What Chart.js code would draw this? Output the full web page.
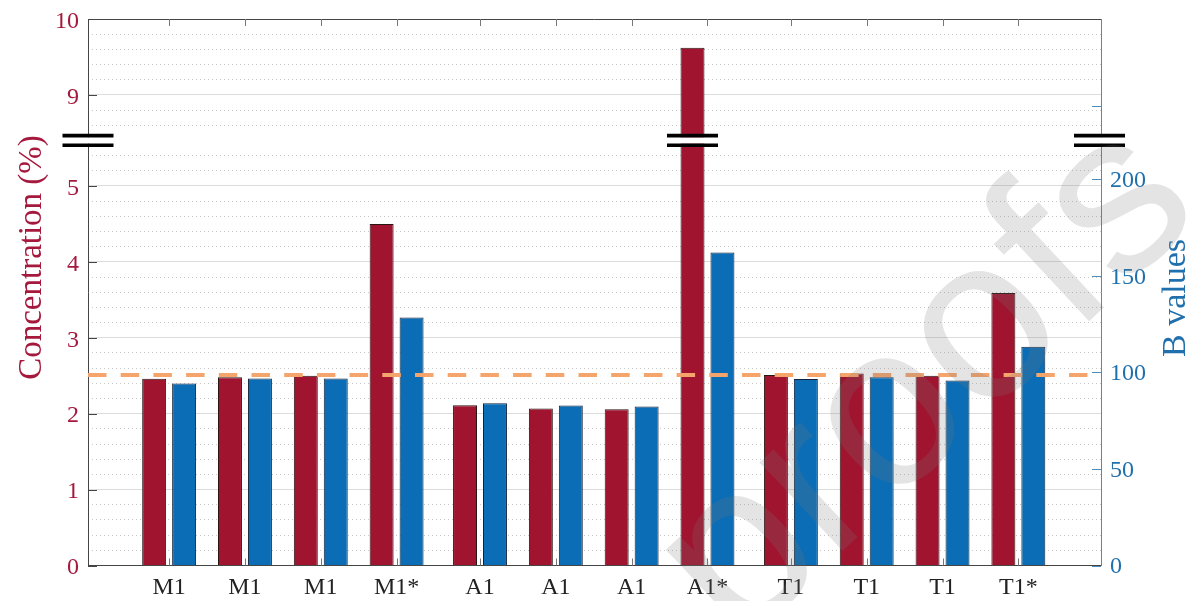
<!DOCTYPE html>
<html>
<head>
  <title>Concentration and B values</title>
  <script src="https://cdn.jsdelivr.net/npm/chart.js"></script>
  <style>
    body { margin: 0; background: #fff; }
    #wrap { width: 1190px; height: 601px; position: relative; }
  </style>
</head>
<body>
  <div id="wrap"><canvas id="barChart"></canvas></div>

  <script>
    // data
    const labels = ['M1', 'M1', 'M1', 'M1*', 'A1', 'A1', 'A1', 'A1*', 'T1', 'T1', 'T1', 'T1*'];
    const groupX = [1, 2, 3, 4, 5.1, 6.1, 7.1, 8.1, 9.2, 10.2, 11.2, 12.2];
    const concentration = [2.46, 2.48, 2.50, 4.50, 2.11, 2.07, 2.06, 9.62, 2.51, 2.53, 2.50, 3.59];
    const bValues = [94.2, 96.8, 96.8, 128.4, 84.0, 82.8, 82.3, 162.0, 96.6, 97.5, 95.8, 113.2];
    const refLevel = 2.51;
    const concTicks = [0, 1, 2, 3, 4, 5, 9, 10];
    const bTicks = [0, 50, 100, 150, 200, 350];
    const concMinor = [0.2, 0.4, 0.6, 0.8, 1.2, 1.4, 1.6, 1.8, 2.2, 2.4, 2.6, 2.8, 3.2, 3.4, 3.6, 3.8,
                       4.2, 4.4, 4.6, 4.8, 5.2, 5.4, 8.6, 8.8, 9.2, 9.4, 9.6, 9.8];

    // axis breaks: [last value below the break, first value above it]
    const CONC_BREAK = [5.6, 8.4];
    const CONC_TOP = 10;
    const B_BREAK = [220, 332];
    const B_TOP = 394.9;
    const X_MIN = -0.07, X_MAX = 13.29;

    const RED = '#a0142f';
    const BLUE = '#0a6db6';
    const RED_TEXT = '#a5193d';
    const BLUE_TEXT = '#1f70ac';
    const AXIS_GREY = '#454545';

    // linear scale with a gap cut out of it
    class BrokenLinearScale extends Chart.LinearScale {
      squash(v) {
        const [lo, hi] = this.options.gap;
        if (v <= lo) return v;
        if (v >= hi) return v - (hi - lo);
        return lo;
      }
      getPixelForValue(v) {
        return super.getPixelForValue(this.squash(v));
      }
    }
    BrokenLinearScale.id = 'brokenLinear';
    BrokenLinearScale.defaults = Chart.LinearScale.defaults;
    Chart.register(BrokenLinearScale);

    Chart.defaults.font.family = "'Liberation Serif', 'Times New Roman', serif";

    // fixed axis sizes so the plot box lands where the figure has it
    function fixWidth(w) {
      return s => {
        s.width = w;
        s.paddingTop = 0;
        s.paddingBottom = 0;
      };
    }

    function breakMark(ctx, cx, cy, half) {
      ctx.fillStyle = '#fff';
      ctx.fillRect(cx - half, cy - 3.2, half * 2, 6.4);
      ctx.strokeStyle = '#000';
      ctx.lineWidth = 3.6;
      [cy - 4.85, cy + 4.85].forEach(yy => {
        ctx.beginPath();
        ctx.moveTo(cx - half, yy);
        ctx.lineTo(cx + half, yy);
        ctx.stroke();
      });
    }

    const framePlugin = {
      id: 'frame',
      afterDraw(chart) {
        const { ctx, chartArea: a, scales } = chart;
        const x = scales.x, y = scales.y, yb = scales.y1;
        ctx.save();

        // top frame line
        ctx.strokeStyle = AXIS_GREY;
        ctx.lineWidth = 1;
        ctx.beginPath();
        ctx.moveTo(a.left, Math.round(a.top) + 0.5);
        ctx.lineTo(a.right, Math.round(a.top) + 0.5);
        ctx.stroke();

        // inward tick marks
        ctx.strokeStyle = AXIS_GREY;
        concTicks.forEach(v => {
          const py = Math.round(y.getPixelForValue(v)) + 0.5;
          ctx.beginPath(); ctx.moveTo(a.left, py); ctx.lineTo(a.left + 9, py); ctx.stroke();
        });
        ctx.strokeStyle = '#777';
        groupX.forEach(v => {
          const px = Math.round(x.getPixelForValue(v)) + 0.5;
          ctx.beginPath(); ctx.moveTo(px, a.bottom); ctx.lineTo(px, a.bottom - 7); ctx.stroke();
          ctx.beginPath(); ctx.moveTo(px, a.top); ctx.lineTo(px, a.top + 7); ctx.stroke();
        });
        ctx.strokeStyle = '#4a8db8';
        bTicks.forEach(v => {
          const py = Math.round(yb.getPixelForValue(v)) + 0.5;
          ctx.beginPath(); ctx.moveTo(a.right, py); ctx.lineTo(a.right - 9, py); ctx.stroke();
        });

        // break marks on both axes and on bars that cross the break
        const by = y.getPixelForValue(CONC_BREAK[0]);
        breakMark(ctx, a.left, by, 25.5);
        breakMark(ctx, a.right - 1.5, by, 25.5);
        chart.getDatasetMeta(0).data.forEach((bar, i) => {
          if (concentration[i] > CONC_BREAK[1]) breakMark(ctx, bar.x, by, 25.5);
        });

        // axis titles
        ctx.textAlign = 'center';
        ctx.textBaseline = 'alphabetic';
        ctx.font = "33px 'Liberation Serif'";
        ctx.fillStyle = RED_TEXT;
        ctx.save();
        ctx.translate(41, 257.5);
        ctx.rotate(-Math.PI / 2);
        ctx.fillText('Concentration (%)', 0, 0);
        ctx.restore();
        ctx.font = "34px 'Liberation Serif'";
        ctx.fillStyle = BLUE_TEXT;
        ctx.save();
        ctx.translate(1185, 298);
        ctx.rotate(-Math.PI / 2);
        ctx.fillText('B values', 0, 0);
        ctx.restore();

        // watermark
        ctx.save();
        ctx.font = "230px 'Liberation Sans'";
        ctx.fillStyle = 'rgba(120,120,120,0.2)';
        ctx.textAlign = 'right';
        ctx.translate(1205, 213);
        ctx.rotate(-43 * Math.PI / 180);
        ctx.fillText('Journal Pre-proofs', 0, 0);
        ctx.restore();

        ctx.restore();
      }
    };

    const tickFont = { size: 24 };

    new Chart(document.getElementById('barChart'), {
      type: 'bar',
      data: {
        datasets: [
          {
            label: 'Concentration (%)',
            data: groupX.map((gx, i) => ({ x: gx, y: concentration[i] })),
            yAxisID: 'y',
            backgroundColor: RED,
            borderColor: '#2a1515',
            borderWidth: 1,
            categoryPercentage: 0.79,
            barPercentage: 0.8,
            order: 1
          },
          {
            label: 'B values',
            data: groupX.map((gx, i) => ({ x: gx, y: bValues[i] })),
            yAxisID: 'y1',
            backgroundColor: BLUE,
            borderColor: '#10233a',
            borderWidth: 1,
            categoryPercentage: 0.79,
            barPercentage: 0.8,
            order: 1
          },
          {
            type: 'line',
            label: 'reference',
            data: [{ x: X_MIN, y: refLevel }, { x: X_MAX, y: refLevel }],
            yAxisID: 'y',
            borderColor: '#f5a46c',
            borderWidth: 4,
            borderDash: [18.5, 14.2],
            pointRadius: 0,
            order: 0
          }
        ]
      },
      options: {
        responsive: true,
        maintainAspectRatio: false,
        animation: false,
        layout: { padding: { top: 19, left: 0, right: 0, bottom: 0 } },
        plugins: {
          legend: { display: false },
          tooltip: { enabled: false }
        },
        scales: {
          x: {
            type: 'linear',
            min: X_MIN,
            max: X_MAX,
            offset: false,
            grid: { display: false, drawTicks: false, offset: false },
            border: { color: AXIS_GREY, width: 1 },
            afterBuildTicks: s => { s.ticks = groupX.map(v => ({ value: v })); },
            ticks: {
              autoSkip: false,
              maxRotation: 0,
              padding: 8,
              color: '#222',
              font: tickFont,
              callback: (v, i) => labels[i]
            },
            afterFit: s => { s.height = 35.5; s.paddingLeft = 0; s.paddingRight = 0; }
          },
          y: {
            type: 'brokenLinear',
            position: 'left',
            gap: CONC_BREAK,
            min: 0,
            max: CONC_TOP - (CONC_BREAK[1] - CONC_BREAK[0]),
            afterBuildTicks: s => { s.ticks = concTicks.map(v => ({ value: v })); },
            ticks: { autoSkip: false, padding: 9, labelOffset: 2.5, color: RED_TEXT, font: tickFont },
            grid: { color: '#dcdcdc', lineWidth: 1, drawTicks: false },
            border: { color: AXIS_GREY, width: 1 },
            afterFit: fixWidth(88)
          },
          yMinor: {
            type: 'brokenLinear',
            position: 'left',
            gap: CONC_BREAK,
            min: 0,
            max: CONC_TOP - (CONC_BREAK[1] - CONC_BREAK[0]),
            afterBuildTicks: s => { s.ticks = concMinor.map(v => ({ value: v })); },
            ticks: { display: false },
            grid: { color: '#c8c8c8', lineWidth: 1, drawTicks: false },
            border: { display: false, dash: [1, 3] },
            afterFit: fixWidth(0)
          },
          y1: {
            type: 'brokenLinear',
            position: 'right',
            gap: B_BREAK,
            min: 0,
            max: B_TOP - (B_BREAK[1] - B_BREAK[0]),
            afterBuildTicks: s => { s.ticks = bTicks.map(v => ({ value: v })); },
            ticks: {
              autoSkip: false,
              padding: 9,
              labelOffset: 1.5,
              color: BLUE_TEXT,
              font: tickFont,
              callback: v => (v > 300 ? '' : v)
            },
            grid: { drawOnChartArea: false, drawTicks: false },
            border: { color: '#4a8db8', width: 1 },
            afterFit: fixWidth(89)
          }
        }
      },
      plugins: [framePlugin]
    });
  </script>
</body>
</html>
